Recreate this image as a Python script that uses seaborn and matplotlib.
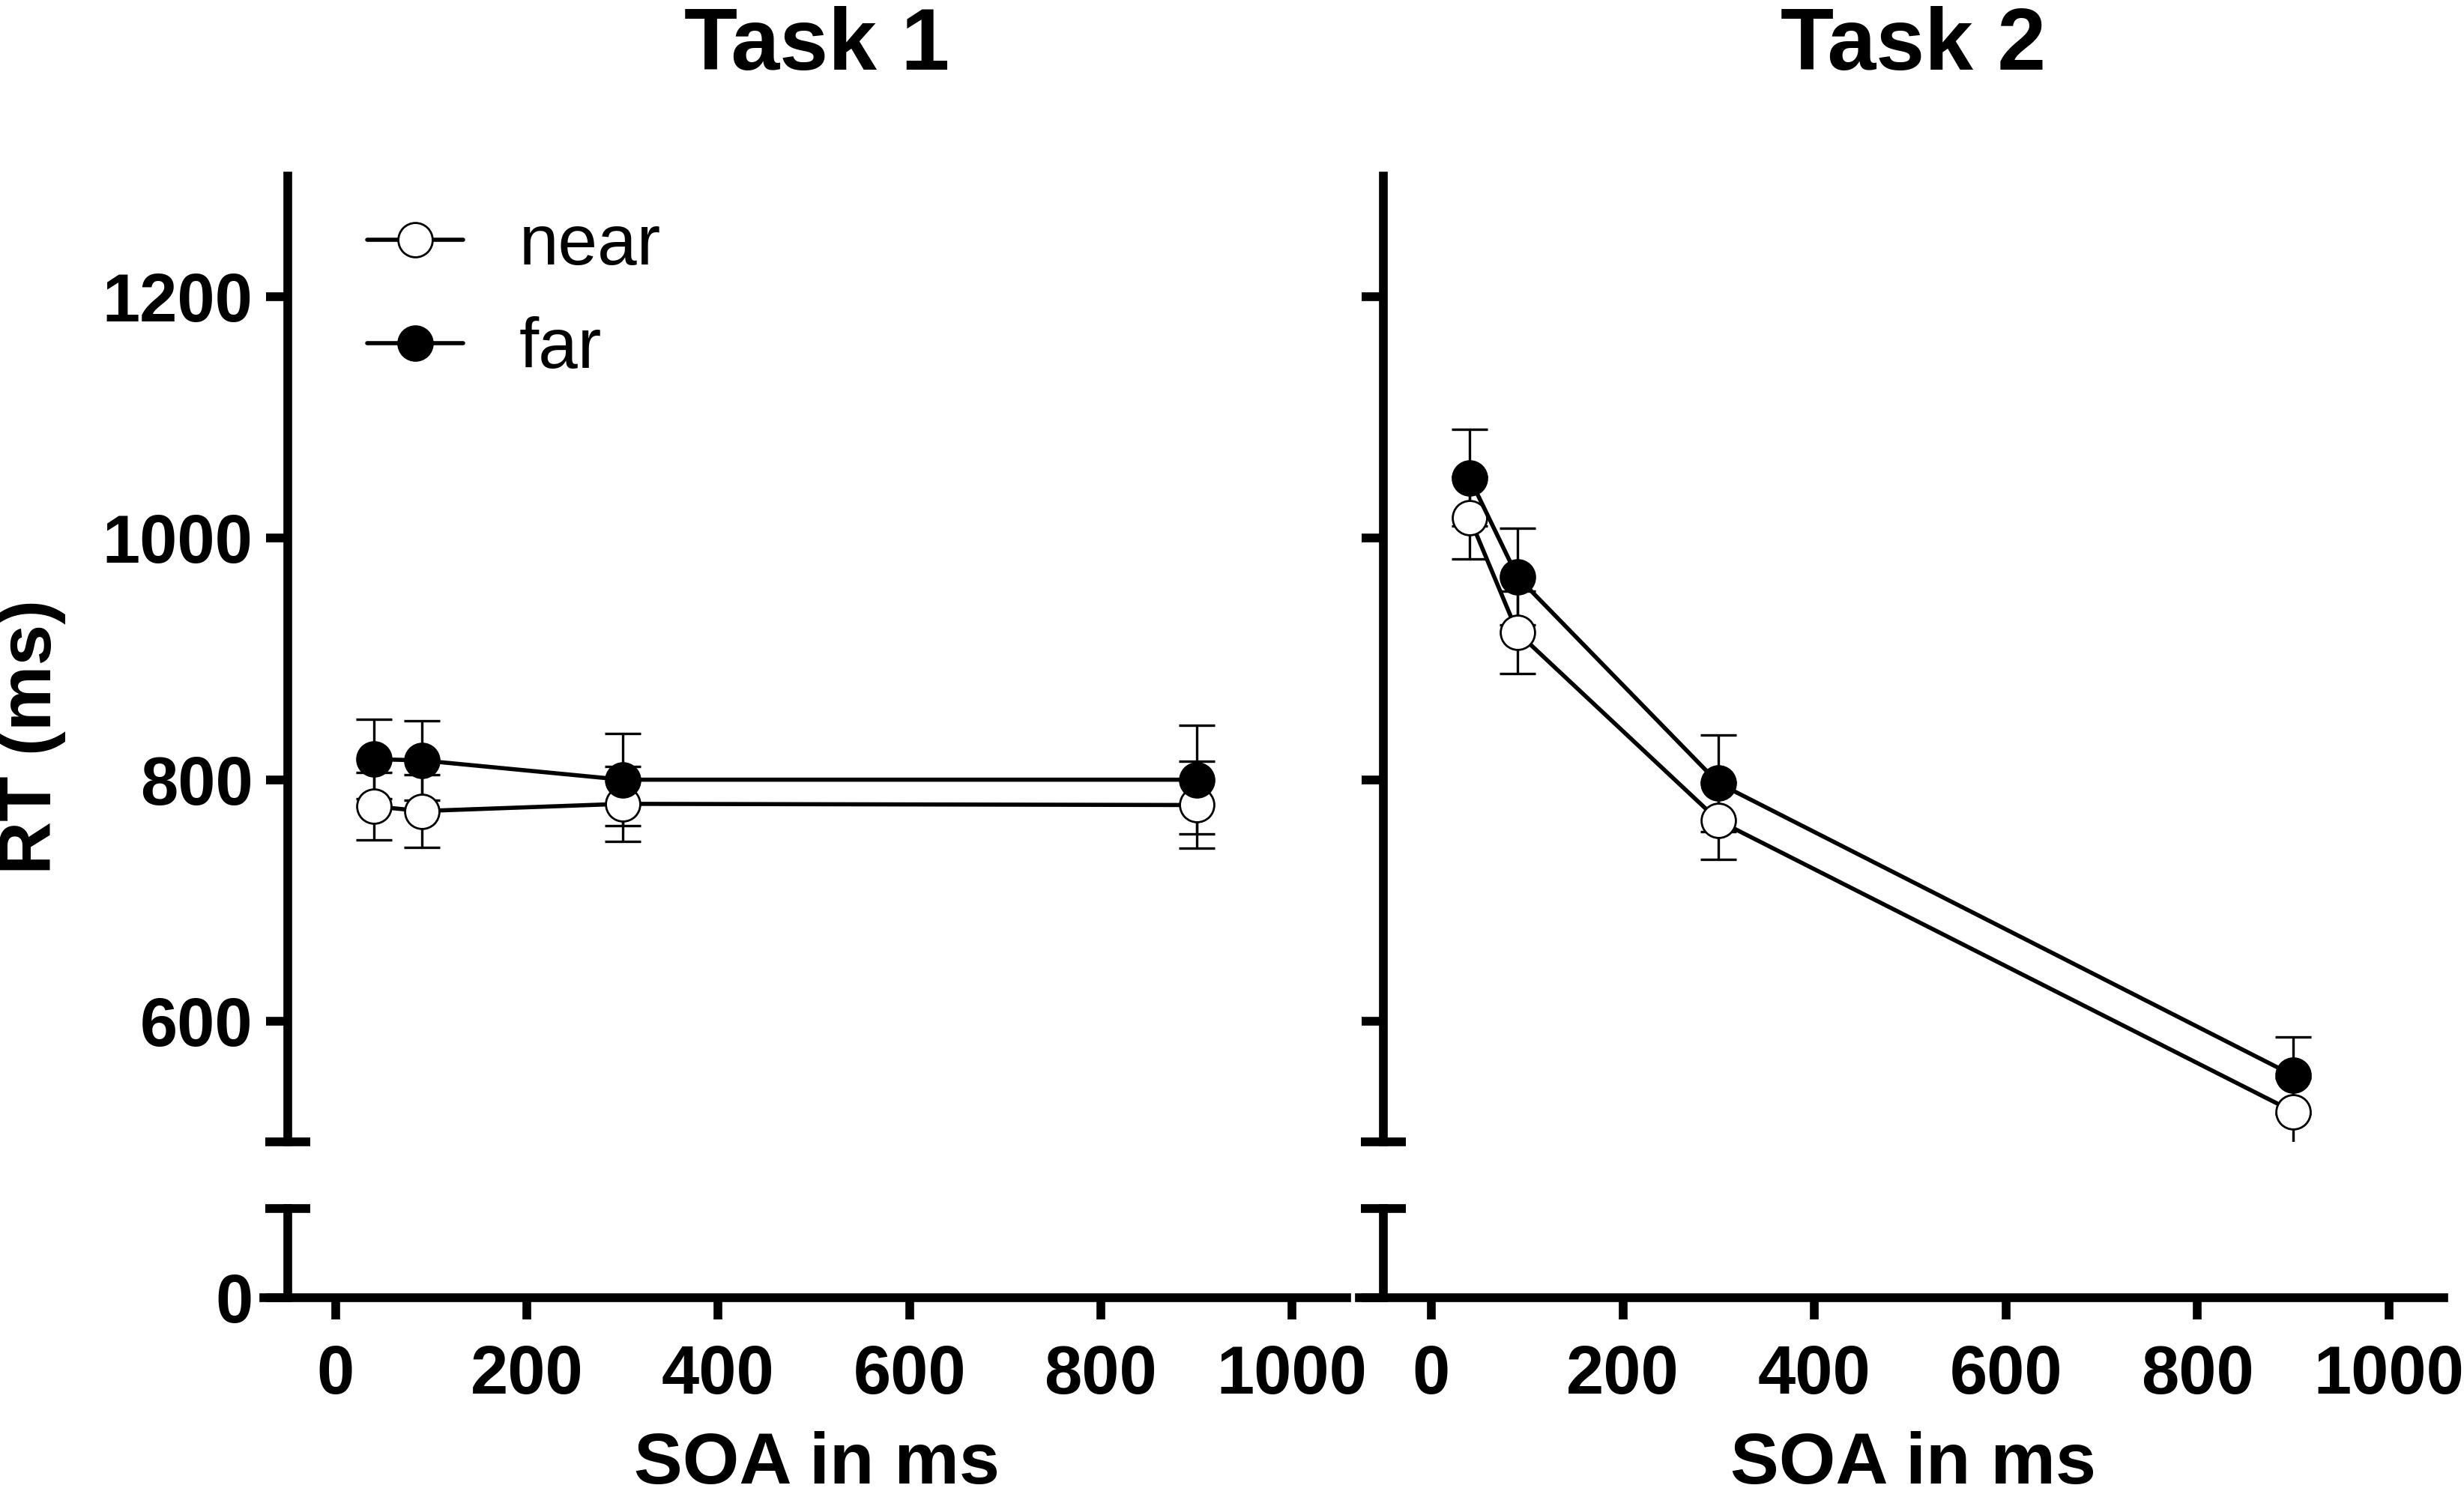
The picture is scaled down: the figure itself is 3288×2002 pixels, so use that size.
import matplotlib
matplotlib.use("Agg")
import matplotlib.pyplot as plt
import matplotlib.transforms as mtransforms
import seaborn as sns

# SOA values (ms)
soa = [40, 90, 300, 900]

# Task 1 mean RT and SE
t1_near = [778, 774, 780, 779]
t1_near_se = [28, 30, 31, 36]
t1_far = [817, 816, 800, 800]
t1_far_se = [33, 33, 38, 45]

# Task 2 mean RT and SE
t2_near = [1017, 922, 766, 525]
t2_near_se = [34, 34, 32, 28]
t2_far = [1050, 968, 797, 555]
t2_far_se = [40, 40, 40, 32]

panel_titles = ["Task 1", "Task 2"]
x_ticks = [0, 200, 400, 600, 800, 1000]
y_ticks = [600, 800, 1000, 1200]

sns.set_style("ticks", {"axes.edgecolor": "black", "text.color": "black",
                        "xtick.color": "black", "ytick.color": "black",
                        "axes.labelcolor": "black"})
plt.rcParams["font.family"] = ["Liberation Sans", "DejaVu Sans"]

W, H = 3288, 2002
fig = plt.figure(figsize=(W / 200, H / 200), dpi=200)

LW = 4.2
XLIM = (-75, 1057)
SPINE_X = -50

# pixel layout (original image coordinates)
panels_x = [(352, 1797), (1814, 3261)]
upper_y = (235, 1524)
lower_y = (1612.7, 1731.7)


def fig_rect(x0, x1, y_top, y_bot):
    return [x0 / W, 1 - y_bot / H, (x1 - x0) / W, (y_bot - y_top) / H]


def style_axis(ax):
    ax.spines["right"].set_visible(False)
    ax.spines["top"].set_visible(False)
    ax.spines["left"].set_position(("data", SPINE_X))
    for s in ("left", "bottom"):
        ax.spines[s].set_linewidth(LW)
        ax.spines[s].set_color("black")
    ax.set_xlim(*XLIM)
    ax.tick_params(axis="both", which="major", direction="out", length=10.3,
                   width=LW, color="black", labelcolor="black",
                   labelsize=32.5, pad=6.4)
    ax.tick_params(axis="y", which="minor", direction="inout", length=21.6,
                   width=LW, color="black")
    ax.set_facecolor("none")


data = [
    (t1_near, t1_near_se, t1_far, t1_far_se),
    (t2_near, t2_near_se, t2_far, t2_far_se),
]

for i, (near, near_se, far, far_se) in enumerate(data):
    x0, x1 = panels_x[i]
    ax_top = fig.add_axes(fig_rect(x0, x1, *upper_y))
    ax_bot = fig.add_axes(fig_rect(x0, x1, *lower_y))

    # error bars below the markers
    ax_top.errorbar(soa, near, yerr=near_se, fmt="none", ecolor="black",
                    elinewidth=1.2, capsize=8.8, capthick=1.2, zorder=2)
    ax_top.errorbar(soa, far, yerr=far_se, fmt="none", ecolor="black",
                    elinewidth=1.2, capsize=8.8, capthick=1.2, zorder=2)

    kw = dict(ax=ax_top, color="black", marker="o", markersize=16.5,
              markeredgecolor="black", markeredgewidth=1.0, linewidth=2.0,
              errorbar=None, zorder=3)
    sns.lineplot(x=soa, y=near, markerfacecolor="white",
                 label="near" if i == 0 else None, **kw)
    sns.lineplot(x=soa, y=far, markerfacecolor="black",
                 label="far" if i == 0 else None, **kw)

    # upper segment of broken axis
    ax_top.set_ylim(500, 1300)
    ax_top.set_yticks(y_ticks)
    ax_top.set_yticks([500], minor=True)
    ax_top.set_xlabel("")
    ax_top.set_ylabel("")
    style_axis(ax_top)
    ax_top.set_xticks([])
    ax_top.spines["bottom"].set_visible(False)

    # lower segment
    ax_bot.set_ylim(0, 74)
    ax_bot.set_yticks([0])
    ax_bot.set_yticks([74], minor=True)
    ax_bot.set_xticks(x_ticks)
    style_axis(ax_bot)
    ax_bot.tick_params(axis="x", pad=12)

    if i == 1:
        ax_top.set_yticklabels([])
        ax_bot.set_yticklabels([])
        if ax_top.get_legend() is not None:
            ax_top.get_legend().remove()
    else:
        ax_top.set_yticklabels([str(v) for v in y_ticks], fontweight="bold")
        ax_bot.set_yticklabels(["0"], fontweight="bold")
        ax_top.legend(loc="upper left", bbox_to_anchor=(490 / W, 1 - 284 / H),
                      bbox_transform=fig.transFigure, frameon=False,
                      borderpad=0, borderaxespad=0, handlelength=1.36,
                      handletextpad=0.79, labelspacing=0.52,
                      prop={"size": 34})
    ax_bot.set_xticklabels([str(v) for v in x_ticks], fontweight="bold")

    # titles and x labels centred on the axis line from the y spine
    tr = mtransforms.blended_transform_factory(ax_top.transData, fig.transFigure)
    xc = (SPINE_X + XLIM[1]) / 2
    fig.text(xc, 1 - 93 / H, panel_titles[i], transform=tr, ha="center",
             va="baseline", fontsize=42, fontweight="bold", color="black")
    fig.text(xc, 1 - 1980 / H, "SOA in ms", transform=tr, ha="center",
             va="baseline", fontsize=35, fontweight="bold", color="black")

fig.text(42 / W, 1 - 983 / H, "RT (ms)", rotation=90, ha="center", va="center",
         fontsize=35.5, fontweight="bold", color="black")

fig.savefig("out.png", dpi=200, facecolor="white")
